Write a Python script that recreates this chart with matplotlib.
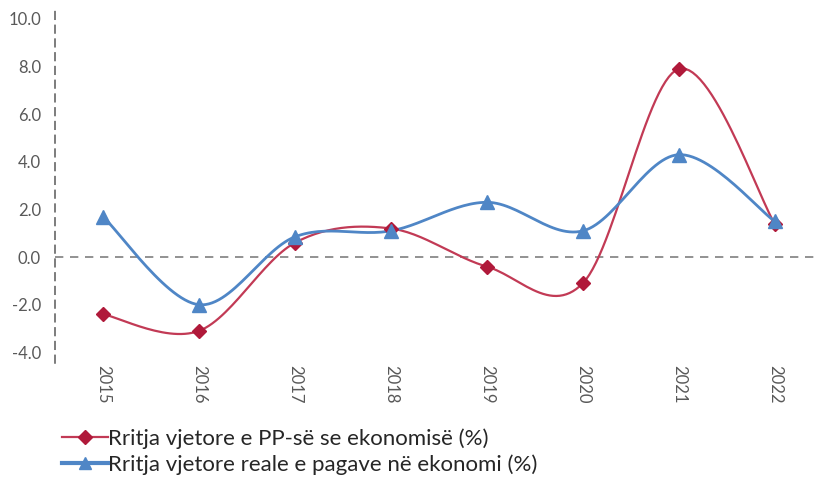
"""
Annual GDP growth vs real wage growth, 2015-2022, smoothed lines.
"""

import numpy as np
import matplotlib.pyplot as plt

YEARS = ["2015", "2016", "2017", "2018", "2019", "2020", "2021", "2022"]
GDP_GROWTH = [-2.4, -3.1, 0.6, 1.2, -0.4, -1.1, 7.9, 1.4]
WAGE_GROWTH = [1.7, -2.0, 0.85, 1.1, 2.3, 1.1, 4.3, 1.5]

GDP_LABEL = "Rritja vjetore e PP-së se ekonomisë (%)"
WAGE_LABEL = "Rritja vjetore reale e pagave në ekonomi (%)"

RED = "#B0193A"
RED_LINE = "#C23A55"
BLUE = "#4F86C6"
GREY = "#595959"


def smooth(x, y, steps=30):
    """Catmull-Rom style bezier smoothing, like Excel's smoothed line."""
    x = np.asarray(x, dtype=float)
    y = np.asarray(y, dtype=float)
    px = np.concatenate([[x[0]], x, [x[-1]]])
    py = np.concatenate([[y[0]], y, [y[-1]]])
    xs, ys = [], []
    t = np.linspace(0, 1, steps)
    for i in range(1, len(px) - 2):
        p0 = np.array([px[i], py[i]])
        p3 = np.array([px[i + 1], py[i + 1]])
        p1 = p0 + (np.array([px[i + 1], py[i + 1]]) - np.array([px[i - 1], py[i - 1]])) / 6
        p2 = p3 - (np.array([px[i + 2], py[i + 2]]) - np.array([px[i], py[i]])) / 6
        b = ((1 - t) ** 3)[:, None] * p0 + (3 * (1 - t) ** 2 * t)[:, None] * p1 \
            + (3 * (1 - t) * t ** 2)[:, None] * p2 + (t ** 3)[:, None] * p3
        xs.append(b[:, 0])
        ys.append(b[:, 1])
    return np.concatenate(xs), np.concatenate(ys)


def main() -> None:
    plt.rcParams["font.family"] = ["Lato", "DejaVu Sans"]
    fig = plt.figure(figsize=(8.16, 4.86), dpi=100)
    ax = fig.add_axes([55 / 816, 0.253, 1 - 55 / 816, 0.7325])

    x = np.arange(len(YEARS))

    sx, sy = smooth(x, GDP_GROWTH)
    ax.plot(sx, sy, color=RED_LINE, lw=1.6, zorder=3)
    ax.plot(x, GDP_GROWTH, ls="none", marker="D", ms=7, color=RED, zorder=4)

    sx, sy = smooth(x, WAGE_GROWTH)
    ax.plot(sx, sy, color=BLUE, lw=2, zorder=3)
    ax.plot(x, WAGE_GROWTH, ls="none", marker="^", ms=10, color=BLUE, zorder=4)

    ax.axhline(0, color="#7F7F7F", lw=1.2, ls=(0, (5, 4)), zorder=2)

    ax.set_xlim(-0.5, 7.43)
    ax.set_ylim(-4.45, 10.5)
    ax.set_yticks(np.arange(-4, 10.1, 2))
    ax.set_yticklabels([f"{v:.1f}" for v in np.arange(-4, 10.1, 2)])
    ax.set_xticks(x)
    ax.set_xticklabels(YEARS, rotation=270)

    for side in ["top", "right", "bottom"]:
        ax.spines[side].set_visible(False)
    ax.spines["left"].set_color("#595959")
    ax.spines["left"].set_linestyle((0, (5, 4)))
    ax.spines["left"].set_linewidth(1.1)

    ax.tick_params(axis="y", length=0, pad=10, labelsize=12, labelcolor=GREY)
    ax.tick_params(axis="x", length=0, pad=1.5, labelsize=12, labelcolor=GREY)

    h1 = plt.Line2D([], [], color=RED_LINE, lw=1.6, marker="D", ms=7, mfc=RED, mec=RED)
    h2 = plt.Line2D([], [], color=BLUE, lw=3, marker="^", ms=9)
    fig.legend([h1, h2], [GDP_LABEL, WAGE_LABEL], loc="lower left",
               bbox_to_anchor=(0.062, 0.0), frameon=False, fontsize=16,
               handlelength=2.1, handletextpad=0.0, labelspacing=0.25,
               borderaxespad=0.1, labelcolor="#262626")

    fig.savefig("out.png", dpi=100)
    plt.close(fig)


if __name__ == "__main__":
    main()
